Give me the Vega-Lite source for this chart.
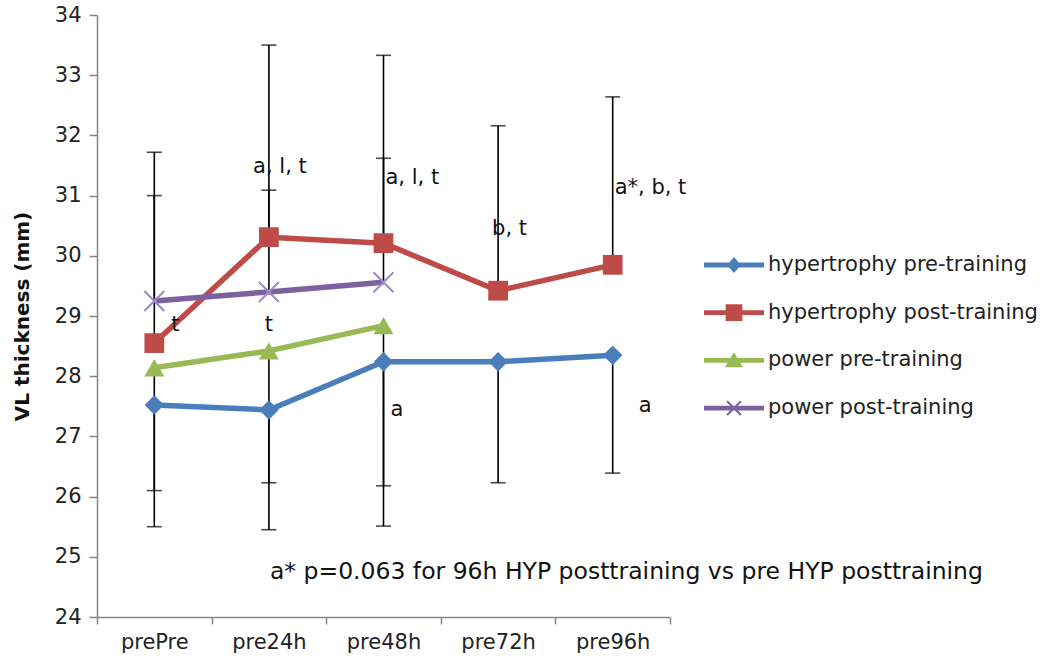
{
  "$schema": "https://vega.github.io/schema/vega-lite/v6.json",
  "width": 573,
  "height": 602,
  "autosize": "none",
  "padding": {"left": 97, "top": 15, "right": 384, "bottom": 49},
  "background": "white",
  "config": {
    "view": {"stroke": null},
    "font": "DejaVu Sans",
    "axis": {
      "grid": false,
      "domainColor": "#868686",
      "domainWidth": 1.5,
      "tickColor": "#868686",
      "tickWidth": 1.5,
      "labelColor": "#222222",
      "labelFont": "DejaVu Sans"
    },
    "text": {"font": "DejaVu Sans", "fontSize": 21, "color": "#111111", "baseline": "middle"}
  },
  "datasets": {
    "series": [
      {"time": "prePre", "group": "hypertrophy pre-training", "mean": 27.52, "end": 25.50},
      {"time": "pre24h", "group": "hypertrophy pre-training", "mean": 27.44, "end": 25.45},
      {"time": "pre48h", "group": "hypertrophy pre-training", "mean": 28.24, "end": 26.18},
      {"time": "pre72h", "group": "hypertrophy pre-training", "mean": 28.24, "end": 26.23},
      {"time": "pre96h", "group": "hypertrophy pre-training", "mean": 28.35, "end": 26.39},
      {"time": "prePre", "group": "hypertrophy post-training", "mean": 28.55, "end": 31.72},
      {"time": "pre24h", "group": "hypertrophy post-training", "mean": 30.31, "end": 33.50},
      {"time": "pre48h", "group": "hypertrophy post-training", "mean": 30.21, "end": 33.33},
      {"time": "pre72h", "group": "hypertrophy post-training", "mean": 29.42, "end": 32.16},
      {"time": "pre96h", "group": "hypertrophy post-training", "mean": 29.85, "end": 32.64},
      {"time": "prePre", "group": "power pre-training", "mean": 28.14, "end": 26.10},
      {"time": "pre24h", "group": "power pre-training", "mean": 28.42, "end": 26.23},
      {"time": "pre48h", "group": "power pre-training", "mean": 28.84, "end": 25.51},
      {"time": "prePre", "group": "power post-training", "mean": 29.25, "end": 31.00},
      {"time": "pre24h", "group": "power post-training", "mean": 29.40, "end": 31.09},
      {"time": "pre48h", "group": "power post-training", "mean": 29.56, "end": 31.62}
    ],
    "notes": [
      {"time": "prePre", "pos": 28.85, "label": "t"},
      {"time": "pre24h", "pos": 28.85, "label": "t"},
      {"time": "pre24h", "pos": 31.47, "label": "a, l, t"},
      {"time": "pre48h", "pos": 31.29, "label": "a, l, t"},
      {"time": "pre48h", "pos": 27.44, "label": "a"},
      {"time": "pre72h", "pos": 30.44, "label": "b, t"},
      {"time": "pre96h", "pos": 31.13, "label": "a*, b, t"},
      {"time": "pre96h", "pos": 27.50, "label": "a"},
      {"time": "pre24h", "pos": 24.75, "label": "a* p=0.063 for 96h HYP posttraining vs pre HYP posttraining"}
    ]
  },
  "encoding": {
    "x": {
      "field": "time",
      "type": "nominal",
      "scale": {
        "type": "band",
        "domain": ["prePre", "pre24h", "pre48h", "pre72h", "pre96h"],
        "paddingInner": 0,
        "paddingOuter": 0
      },
      "axis": {
        "title": null,
        "labelAngle": 0,
        "labelFontSize": 21,
        "labelPadding": 7,
        "tickSize": 7,
        "tickBand": "extent"
      }
    }
  },
  "layer": [
    {
      "data": {"name": "series"},
      "mark": {"type": "rule", "color": "black", "strokeWidth": 1.6},
      "encoding": {
        "y": {
          "field": "mean",
          "type": "quantitative",
          "scale": {"domain": [24, 34], "nice": false, "zero": false},
          "axis": {
            "title": "VL thickness (mm)",
            "titleFontSize": 20,
            "titleFontWeight": "bold",
            "titleColor": "#111111",
            "titlePadding": 22,
            "values": [24, 25, 26, 27, 28, 29, 30, 31, 32, 33, 34],
            "format": "d",
            "labelFontSize": 21,
            "labelPadding": 8,
            "tickSize": 8
          }
        },
        "y2": {"field": "end"}
      }
    },
    {
      "data": {"name": "series"},
      "mark": {"type": "tick", "orient": "horizontal", "color": "black", "thickness": 1.6, "size": 15},
      "encoding": {"y": {"field": "end", "type": "quantitative"}}
    },
    {
      "data": {"name": "series"},
      "mark": {"type": "line", "strokeWidth": 5.5, "strokeJoin": "round"},
      "encoding": {
        "y": {"field": "mean", "type": "quantitative"},
        "color": {
          "field": "group",
          "type": "nominal",
          "scale": {
            "domain": ["hypertrophy pre-training", "hypertrophy post-training", "power pre-training", "power post-training"],
            "range": ["#4A7EBB", "#BE4B48", "#98B954", "#7D60A0"]
          },
          "legend": {
            "title": null,
            "orient": "none",
            "legendX": 607,
            "legendY": 227,
            "padding": 0,
            "symbolSize": 3600,
            "symbolStrokeWidth": 0,
            "labelFontSize": 21,
            "labelColor": "#222222",
            "labelLimit": 400,
            "labelOffset": 4,
            "clipHeight": 46,
            "rowPadding": 1.7,
            "encode": {
              "symbols": {
                "update": {
                  "shape": {"signal": "datum.value === 'hypertrophy pre-training' ? 'M-1,-0.08L1,-0.08L1,0.08L-1,0.08ZM0,-0.27L0.23,0L0,0.27L-0.23,0Z' : datum.value === 'hypertrophy post-training' ? 'M-1,-0.08L1,-0.08L1,0.08L-1,0.08ZM-0.28,-0.28L0.28,-0.28L0.28,0.28L-0.28,0.28Z' : datum.value === 'power pre-training' ? 'M-1,-0.08L1,-0.08L1,0.08L-1,0.08ZM0,-0.27L0.3,0.23L-0.3,0.23Z' : 'M-1,-0.08L1,-0.08L1,0.08L-1,0.08ZM-0.205,-0.255L0.255,0.205L0.205,0.255L-0.255,-0.205ZM-0.255,0.205L0.205,-0.255L0.255,-0.205L-0.205,0.255Z'"},
                  "fill": {"scale": "color", "field": "value"},
                  "stroke": {"value": "transparent"},
                  "strokeWidth": {"value": 0},
                  "size": {"value": 3600},
                  "opacity": {"value": 1}
                }
              }
            }
          }
        }
      }
    },
    {
      "data": {"name": "series"},
      "transform": [{"filter": "datum.group !== 'power post-training'"}],
      "mark": {"type": "point", "filled": true, "opacity": 1},
      "encoding": {
        "y": {"field": "mean", "type": "quantitative"},
        "color": {"field": "group", "type": "nominal", "legend": null},
        "shape": {
          "field": "group",
          "type": "nominal",
          "scale": {
            "domain": ["hypertrophy pre-training", "hypertrophy post-training", "power pre-training"],
            "range": ["diamond", "square", "triangle-up"]
          },
          "legend": null
        },
        "size": {
          "field": "group",
          "type": "nominal",
          "scale": {
            "domain": ["hypertrophy pre-training", "hypertrophy post-training", "power pre-training"],
            "range": [380, 400, 420]
          },
          "legend": null
        }
      }
    },
    {
      "data": {"name": "series"},
      "transform": [{"filter": "datum.group === 'power post-training'"}],
      "mark": {"type": "point", "shape": "M-1,-1L1,1M-1,1L1,-1", "filled": false, "stroke": "#9E8BC6", "strokeWidth": 2, "size": 400, "opacity": 1},
      "encoding": {"y": {"field": "mean", "type": "quantitative"}}
    },
    {
      "data": {"name": "notes"},
      "transform": [{"filter": "datum.time === 'prePre' && datum.label === 't'"}],
      "mark": {"type": "text", "align": "left", "dx": 17},
      "encoding": {"y": {"field": "pos", "type": "quantitative"}, "text": {"field": "label"}}
    },
    {
      "data": {"name": "notes"},
      "transform": [{"filter": "datum.time === 'pre24h' && datum.label === 't'"}],
      "mark": {"type": "text", "align": "center", "dx": 0},
      "encoding": {"y": {"field": "pos", "type": "quantitative"}, "text": {"field": "label"}}
    },
    {
      "data": {"name": "notes"},
      "transform": [{"filter": "datum.time === 'pre24h' && datum.label === 'a, l, t'"}],
      "mark": {"type": "text", "align": "center", "dx": 11},
      "encoding": {"y": {"field": "pos", "type": "quantitative"}, "text": {"field": "label"}}
    },
    {
      "data": {"name": "notes"},
      "transform": [{"filter": "(datum.time === 'pre48h' && datum.label === 'a, l, t') || datum.label === 'a*, b, t'"}],
      "mark": {"type": "text", "align": "left", "dx": 2},
      "encoding": {"y": {"field": "pos", "type": "quantitative"}, "text": {"field": "label"}}
    },
    {
      "data": {"name": "notes"},
      "transform": [{"filter": "datum.label.length > 20"}],
      "mark": {"type": "text", "align": "left", "dx": 1, "fontSize": 23.5},
      "encoding": {"y": {"field": "pos", "type": "quantitative"}, "text": {"field": "label"}}
    },
    {
      "data": {"name": "notes"},
      "transform": [{"filter": "datum.time === 'pre48h' && datum.label === 'a'"}],
      "mark": {"type": "text", "align": "left", "dx": 7},
      "encoding": {"y": {"field": "pos", "type": "quantitative"}, "text": {"field": "label"}}
    },
    {
      "data": {"name": "notes"},
      "transform": [{"filter": "datum.label === 'b, t'"}],
      "mark": {"type": "text", "align": "left", "dx": -6},
      "encoding": {"y": {"field": "pos", "type": "quantitative"}, "text": {"field": "label"}}
    },
    {
      "data": {"name": "notes"},
      "transform": [{"filter": "datum.time === 'pre96h' && datum.label === 'a'"}],
      "mark": {"type": "text", "align": "left", "dx": 26},
      "encoding": {"y": {"field": "pos", "type": "quantitative"}, "text": {"field": "label"}}
    }
  ]
}
